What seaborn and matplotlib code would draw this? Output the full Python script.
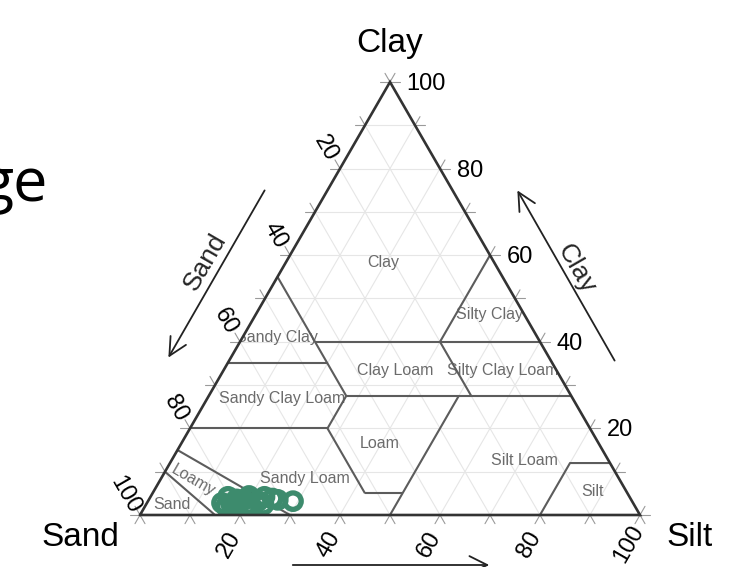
import numpy as np
import pandas as pd
import matplotlib
matplotlib.use("Agg")
import matplotlib.pyplot as plt
from matplotlib.patches import Polygon, PathPatch
from matplotlib.path import Path
import seaborn as sns

sns.set_style("white")
plt.rcParams["font.family"] = ["Liberation Sans", "DejaVu Sans"]

# Sample textures (percent silt / percent clay; sand is the remainder)
sample_silt = [15.0, 15.5, 16.2, 17.5, 18.2, 19.0, 19.6, 20.5, 21.1, 22.0, 22.8,
               23.5, 24.6, 25.8, 29.0, 17.0, 20.0]
sample_clay = [2.8, 4.2, 2.0, 3.6, 2.1, 3.5, 4.4, 2.6, 1.8, 3.2, 4.2,
               2.4, 3.8, 3.5, 3.2, 2.5, 4.0]

axis_ticks = [20, 40, 60, 80, 100]

# USDA texture class names and where their labels sit (silt, clay)
class_names = ["Clay", "Sandy Clay", "Silty Clay", "Clay Loam", "Silty Clay Loam",
               "Sandy Clay Loam", "Loam", "Silt Loam", "Silt", "Sandy Loam", "Loamy", "Sand"]
class_label_silt = [19.4, 6.9, 46.9, 34.4, 55.8, 14.9, 39.7, 70.6, 87.8, 28.7, 6.7, 5.1]
class_label_clay = [58.4, 41.1, 46.2, 33.3, 33.3, 27.0, 16.6, 12.7, 5.5, 8.5, 7.9, 2.5]

# Texture class boundaries as polylines of (silt, clay)
class_boundaries = [
    [(15, 0), (0, 10)],
    [(30, 0), (0, 15)],
    [(0, 20), (27.5, 20)],
    [(27.5, 20), (27.5, 27.5)],
    [(0, 35), (20, 35)],
    [(0, 55), (27.5, 27.5)],
    [(15, 40), (60, 40)],
    [(27.5, 27.5), (72.5, 27.5)],
    [(52.5, 27.5), (40, 40)],
    [(40, 40), (40, 60)],
    [(27.5, 20), (42.5, 5)],
    [(42.5, 5), (50, 5)],
    [(50, 27.5), (50, 0)],
    [(80, 0), (80, 12), (88, 12)],
]

H = np.sqrt(3) / 2
XLIM = (-28, 121.2)
YLIM = (-10.4, 103)


def tern(silt, clay):
    silt = np.asarray(silt, dtype=float)
    clay = np.asarray(clay, dtype=float)
    return silt + clay / 2, clay * H


fig = plt.figure(figsize=(7.46, 5.67), dpi=100)
ax = fig.add_axes([0, 0, 1, 1])
ax.set_xlim(*XLIM)
ax.set_ylim(*YLIM)
ax.set_aspect("equal")
ax.axis("off")

corners = np.array([tern(0, 0), tern(100, 0), tern(0, 100)])
tri = Polygon(corners, closed=True, facecolor="none", edgecolor="none")
ax.add_patch(tri)

# light reference grid every 10 %
grid_kw = dict(color="#e6e6e6", lw=0.8, zorder=1)
for k in range(10, 100, 10):
    x, y = tern([0, 100 - k], [k, k])
    ax.plot(x, y, **grid_kw)
    x, y = tern([k, k], [0, 100 - k])
    ax.plot(x, y, **grid_kw)
    x, y = tern([100 - k, 0], [0, 100 - k])
    ax.plot(x, y, **grid_kw)

# class boundaries
for line in class_boundaries:
    s, c = zip(*line)
    x, y = tern(s, c)
    ax.plot(x, y, color="#5c5c5c", lw=1.5, zorder=3, solid_capstyle="butt")

# class labels (kept inside the triangle by a white frame drawn above them)
for name, s, c in zip(class_names, class_label_silt, class_label_clay):
    x, y = tern(s, c)
    rot = -30 if name == "Loamy" else 0
    ax.text(x, y, name, ha="center", va="center", fontsize=11.5,
            color="#6b6b6b", rotation=rot, zorder=2)

outer = [(XLIM[0], YLIM[0]), (XLIM[1], YLIM[0]), (XLIM[1], YLIM[1]),
         (XLIM[0], YLIM[1]), (XLIM[0], YLIM[0])]
inner = [tuple(corners[0]), tuple(corners[2]), tuple(corners[1]), tuple(corners[0])]
mask_path = Path(outer + inner,
                 [Path.MOVETO] + [Path.LINETO] * 3 + [Path.CLOSEPOLY]
                 + [Path.MOVETO] + [Path.LINETO] * 2 + [Path.CLOSEPOLY])
ax.add_patch(PathPatch(mask_path, facecolor="white", edgecolor="none", zorder=3.5))

# small ticks outside each edge, extending the grid directions
tl = 2.0
tick_kw = dict(color="#9a9a9a", lw=0.8, zorder=4)
for k in range(0, 101, 10):
    bx, by = tern(k, 0)
    for d in [(-0.5, -H), (0.5, -H)]:
        ax.plot([bx, bx + tl * d[0]], [by, by + tl * d[1]], **tick_kw)
    lx, ly = tern(0, k)
    for d in [(-1, 0), (-0.5, H)]:
        ax.plot([lx, lx + tl * d[0]], [ly, ly + tl * d[1]], **tick_kw)
    rx, ry = tern(100 - k, k)
    for d in [(1, 0), (0.5, H)]:
        ax.plot([rx, rx + tl * d[0]], [ry, ry + tl * d[1]], **tick_kw)

# samples
px, py = tern(sample_silt, sample_clay)
df = pd.DataFrame({"x": px, "y": py})
sns.scatterplot(data=df, x="x", y="y", ax=ax, s=140, marker="o",
                facecolors="none", edgecolor="#3d8b6d", linewidth=3.8,
                zorder=4.5, legend=False)
for coll in ax.collections:
    coll.set_clip_path(tri)
ax.set_xlabel("")
ax.set_ylabel("")
ax.set_xlim(*XLIM)
ax.set_ylim(*YLIM)

# triangle outline
ox, oy = corners[[0, 1, 2, 0], 0], corners[[0, 1, 2, 0], 1]
ax.plot(ox, oy, color="#333333", lw=1.9, zorder=6, solid_joinstyle="miter")

# tick labels
lab_kw = dict(textcoords="offset points", fontsize=17, color="black")
for v in axis_ticks:
    # sand axis (left edge)
    x, y = tern(0, 100 - v)
    ax.annotate(str(v), (x, y), xytext=(-10.5, 14.5), ha="center", va="center",
                rotation=-60, zorder=7, **lab_kw)
    # silt axis (bottom edge)
    x, y = tern(v, 0)
    ax.annotate(str(v), (x, y), xytext=(-8, -21), ha="center", va="center",
                rotation=60, zorder=7, **lab_kw)
    # clay axis (right edge)
    x, y = tern(100 - v, v)
    ax.annotate(str(v), (x, y), xytext=(12, -1.5), ha="left", va="center",
                zorder=7, **lab_kw)

# corner titles
title_kw = dict(textcoords="offset points", fontsize=24, color="black",
                ha="center", va="center", zorder=7)
ax.annotate("Clay", tern(0, 100), xytext=(0, 28), **title_kw)
ax.annotate("Sand", tern(0, 0), xytext=(-43, -16.5), **title_kw)
ax.annotate("Silt", tern(100, 0), xytext=(36, -16.5), **title_kw)

# direction arrows with axis names
arrow_kw = dict(arrowstyle="->", color="#222222", lw=1.3, mutation_scale=32)
ax.annotate("", xy=(5.4, 31.0), xytext=(25.2, 65.4), arrowprops=arrow_kw, zorder=7)
ax.annotate("", xy=(75.2, 65.4), xytext=(95.2, 30.4), arrowprops=arrow_kw, zorder=7)
ax.annotate("", xy=(70.4, -10.0), xytext=(30.0, -10.0), arrowprops=arrow_kw,
            annotation_clip=False, zorder=7)
ax.text(13.0, 50.6, "Sand", rotation=60, ha="center", va="center", fontsize=19, zorder=7)
ax.text(87.2, 49.2, "Clay", rotation=-60, ha="center", va="center", fontsize=19, zorder=7)

fig.text(48 / 746, 1 - 201 / 567, "ge", ha="right", va="baseline",
         fontsize=44, family="Open Sans", color="black")

fig.savefig("out.png", dpi=100)
